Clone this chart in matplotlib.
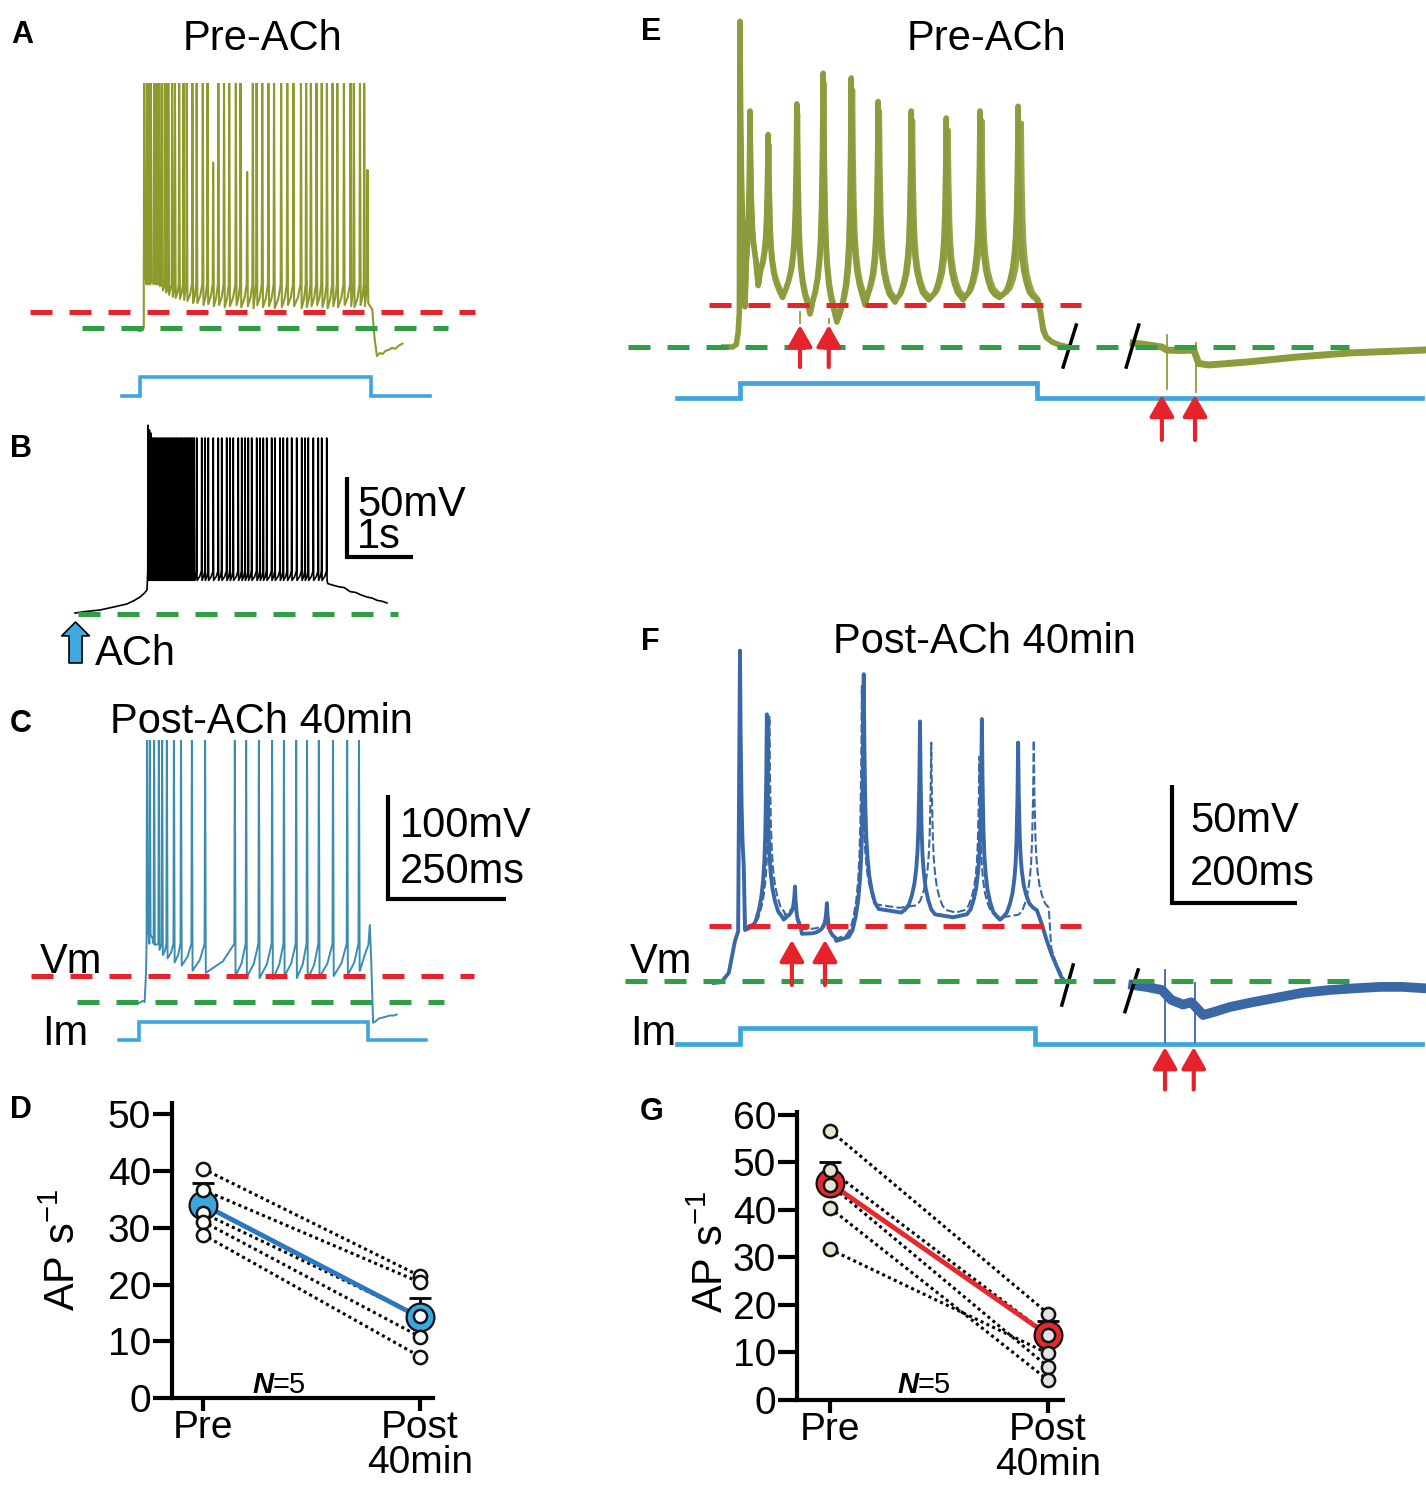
import numpy as np
import matplotlib
matplotlib.use('Agg')
import matplotlib.pyplot as plt

plt.rcParams['font.family'] = ['Liberation Sans', 'DejaVu Sans']
plt.rcParams['mathtext.default'] = 'regular'

# ---------------- data (ms, mV relative to rest, pA, AP/s) ----------------
# Panel A : Pre-ACh, current-step response
A_spike_t = [9, 15, 19, 23, 30, 35, 41, 47, 54, 60, 68, 74, 83, 92, 99, 111, 120, 133, 143, 155,
             166, 178, 189, 203, 213, 227, 239, 247, 259, 272, 284, 299, 312, 325, 341, 352, 362, 374,
             385, 396, 408, 418, 432, 446, 453, 466, 475, 482]
A_spike_v = [245, 245, 245, 245, 245, 245, 245, 245, 245, 245, 245, 245, 245, 245, 245, 245, 245, 245, 245, 159,
             245, 245, 245, 245, 245, 150, 245, 245, 245, 245, 245, 245, 245, 245, 245, 245, 245, 245,
             245, 245, 245, 245, 245, 245, 245, 245, 245, 152]
A_trough = [52, 50, 48, 46, 44, 42, 40, 36, 34, 32,
            30, 29, 28, 27, 26, 24, 24, 22, 23, 21,
            22, 20, 21, 22, 20, 21, 19, 22, 20, 21,
            19, 20, 22, 21, 19, 20, 21, 22, 20, 19,
            21, 20, 22, 21, 20, 22, 21, 24]
A_thresh = 42
A_pre_t = [-36, -20, -8, 0, 5, 8]
A_pre_v = [-1, -2, -2, -3, -2, 0]
A_post_t = [486, 492, 497, 502, 508, 514, 520, 527, 534, 541, 548, 556]
A_post_v = [22, 18, -10, -27, -24, -25, -22, -21, -19, -20, -17, -15]
A_red_v, A_red_t = 15.4, [-233, 710]
A_green_t = [-123, 653]
A_I_t = [-38, 0, 0, 490, 490, 614]
A_I_v = [0, 0, 200, 200, 0, 0]

# Panel B : ACh puff
B_pre_t = [0, 150, 379, 600, 788, 900, 985, 1050, 1091]
B_pre_v = [0.6, 1.5, 2.5, 4.5, 6.3, 8.5, 10.6, 13, 15]
B_dense_t = [1106, 1128, 1151, 1176, 1199, 1224, 1247, 1273, 1296, 1321,
             1345, 1368, 1394, 1417, 1442, 1466, 1490, 1515, 1539, 1562,
             1588, 1611, 1636, 1660, 1684, 1709, 1733, 1758, 1782, 1806]
B_sparse_t = [1844, 1920, 1970, 2020, 2095, 2171, 2223, 2298, 2348, 2398, 2474, 2526, 2576,
              2626, 2677, 2753, 2803, 2853, 2905, 2980, 3030, 3106, 3156, 3217, 3283, 3359,
              3435, 3485, 3535, 3611, 3686, 3738, 3814]
B_peak_lead = [118, 115, 113]
B_peak_level = 110
B_trough = 21
B_thresh = 27
B_post_t = [3830, 3909, 4000, 4080, 4167, 4250, 4330, 4424, 4500, 4580, 4650, 4727]
B_post_v = [19, 18, 17, 16.5, 14, 13.5, 12, 10.6, 10, 8.5, 8, 6.9]
B_green_t = [45, 4894]

# Panel C : Post-ACh 40 min
C_spike_t = [17, 23, 32, 42, 49, 59, 74, 89, 112, 140, 203, 227, 254, 282, 307, 333, 356, 381, 411, 441, 466]
C_spike_v = [270, 270, 270, 270, 270, 270, 270, 270, 270, 270, 270, 270, 270, 270, 270, 270, 270, 270, 270, 270, 270]
C_trough = [75, 65, 55, 50, 45, 42, 38, 35, 30, 28, 25, 24, 23, 22, 25, 23, 22, 24, 25, 26, 30]
C_thresh = 56
C_pre_t = [-19, -10, 0, 8, 12, 15]
C_pre_v = [1, 0, -1, 1, 0, 30]
C_post_t = [468, 478, 486, 489, 492, 496, 500, 508, 516, 524, 532, 540, 546]
C_post_v = [30, 45, 55, 74, 40, -20, -19, -16, -15, -14, -13, -13, -12]
C_red_v, C_red_t = 25, [-229, 710]
C_green_t = [-131, 646]
C_I_t = [-42, 0, 0, 485, 485, 608]
C_I_v = [0, 0, 200, 200, 0, 0]

# Panel E : Pre-ACh, stimulus protocol (two overlaid sweeps)
E1_spike_t = [0, 16, 45, 91, 133, 178, 221, 274, 330, 384, 445]
E1_spike_v = [138, 100, 90, 103, 116, 114, 104, 100, 97, 100, 102]
E1_trough_t = [8, 29, 68, 112, 155, 200, 248, 302, 357, 415]
E1_trough_v = [17, 26, 21, 14, 10.6, 17.8, 19, 20, 20, 21]
E2_spike_t = [0, 17, 47, 93, 135, 181, 224, 277, 334, 388, 451]
E2_spike_v = [133, 96, 86, 99, 112, 109, 100, 96, 92, 96, 95]
E2_trough_t = [9, 31, 70, 114, 158, 202, 250, 305, 360, 419]
E2_trough_v = [18, 27, 22, 15, 12, 19, 20, 21, 21, 22]
E_pre_t = [-26, -12, -6, -3, -1]
E_pre_v = [0, 0, 1, 6, 15]
E_tail_v = 20
E1_tail_t = [472, 477, 481, 485, 490, 500, 512, 525]
E1_tail_vals = [21, 19, 14, 7, 4, 2, 0.8, 0]
E2_tail_t = [478, 482, 486, 491, 500, 512, 525]
E2_tail_vals = [20, 15, 8, 4.5, 2.2, 0.9, 0]
E_late_t = [629, 650, 675, 683, 705, 726, 734, 750, 810, 893, 976, 1093]
E_late_v = [1.7, 1, 0, -1.3, -1.5, -1.3, -7, -7.6, -6.4, -4.2, -2.5, -1.3]
E_stim_t = [96, 142, 675, 728]
E_artifact = [(96, 15, 10), (142, 12, 10), (683, 5, -18), (730, 1.7, -19)]
E_red_v, E_red_t = 17.8, [-50, 546]
E_green_t = [-179, 974]
E_I_t = [-101, 0, 0, 475, 475, 1091]
E_I_v = [0, 0, 200, 200, 0, 0]

# Panel F : Post-ACh 40 min, stimulus protocol (two overlaid sweeps)
F1_spike_t = [0, 43, 88, 139, 198, 288, 387, 445]
F1_spike_v = [140, 113, 40, 33, 130, 110, 111, 101]
F1_trough_t = [8, 70, 99, 154, 258, 341, 416]
F1_trough_v = [21.6, 26, 20, 17, 29, 27, 26]
F1_tail_t = [475, 483, 491, 499, 507, 517]
F1_tail_vals = [30, 24, 17, 11, 6, 0]
F2_spike_t = [0, 47, 88, 139, 195, 306, 383, 470]
F2_spike_v = [135, 112, 38, 30, 125, 101, 95, 102]
F2_trough_t = [9, 72, 100, 155, 255, 345, 420]
F2_trough_v = [23, 28, 22, 18, 31, 29, 27]
F2_tail_t = [498, 505, 512, 520]
F2_tail_vals = [14, 8, 4, 0]
F_tail_v = 30
F_pre_t = [-42, -30, -18, -8, -3]
F_pre_v = [-0.8, -0.5, 3.4, 17, 21]
F_late_t = [629, 650, 675, 690, 709, 722, 741, 760, 784, 820, 864, 900, 944, 990, 1024, 1060, 1091]
F_late_v = [-1.7, -2.5, -3.8, -8, -10, -9, -14.4, -13, -11, -9, -6.8, -5, -3.8, -3, -2.5, -2.5, -3]
F_stim_t = [83, 136, 680, 726]
F_artifact = [(680, 4.7, -26), (728, -0.8, -26)]
F_red_v, F_red_t = 23.3, [-50, 546]
F_green_t = [-184, 974]
F_I_t = [-101, 0, 0, 472, 472, 1091]
F_I_v = [0, 0, 200, 200, 0, 0]

# Panels D and G : firing rate
categories = ['Pre', 'Post\n40min']
D_pre = [40.4, 36.7, 32.6, 31.1, 28.8]
D_post = [21.5, 20.4, 14.4, 10.8, 7.3]
D_mean = [34.1, 14.2]
D_sem = [3.8, 3.4]
G_pre = [56.7, 48.4, 45.3, 40.4, 31.7]
G_post = [18.2, 13.7, 7.0, 4.2, 9.8]
G_mean = [45.6, 13.7]
G_sem = [4.4, 3.0]

# ---------------- styles ----------------
A_col = '#8e9a2c'
C_col = '#3a8db0'
E_col = '#8d9b3c'
F_col = '#3a67a6'
I_col = '#3ea6dc'
RED = '#e6222a'
GREEN = '#2f9e44'
DASH = (0, (4.4, 3.4))
BIG = 30

W, H = 1426, 1494
fig = plt.figure(figsize=(W / 100, H / 100), dpi=100)


def px_axes(l, t, r, b, z=1):
    ax = fig.add_axes([l / W, 1 - b / H, (r - l) / W, (b - t) / H], zorder=z)
    ax.patch.set_alpha(0)
    return ax


def trace_axes(l, t, r, b, x0, y0, kx, ky, z=1):
    ax = px_axes(l, t, r, b, z)
    ax.set_xlim((l - x0) / kx, (r - x0) / kx)
    ax.set_ylim((y0 - b) / ky, (y0 - t) / ky)
    ax.axis('off')
    return ax


def ftext(x, y, s, **kw):
    fig.text(x / W, 1 - y / H, s, **kw)


def sharp_train(spk_t, spk_v, trough, thresh, rise=1.0, fall=1.5):
    n = len(spk_t)
    trough = list(np.broadcast_to(trough, n))
    thresh = list(np.broadcast_to(thresh, n))
    t, v = [], []
    for i in range(n):
        s, p = spk_t[i], spk_v[i]
        t += [s - rise, s, s + fall]
        v += [thresh[i], p, trough[i]]
        if i + 1 < n:
            nxt = spk_t[i + 1]
            if nxt - s > 8:
                t.append(s + 0.6 * (nxt - s))
                v.append(trough[i] + 0.4 * (thresh[i + 1] - trough[i]))
    return t, v


# spike waveform profile used for the broad (multi-sweep) spikes of E and F
SHAPE_DT = [0, 1, 2.5, 4, 6, 9, 13, 18, 24]
SHAPE_FR = [1, 0.7, 0.45, 0.32, 0.23, 0.15, 0.09, 0.04, 0.015]


def broad_train(spk_t, spk_v, tr_t, tr_v, tail_v):
    t, v = [], []
    n = len(spk_t)
    for i in range(n):
        s, p = spk_t[i], spk_v[i]
        if i > 0:
            base = tr_v[i - 1]
            lim = s - tr_t[i - 1]
            for dt, fr in zip(SHAPE_DT[::-1], SHAPE_FR[::-1]):
                if 0 < dt < lim:
                    t.append(s - dt); v.append(base + fr * (p - base))
        t.append(s); v.append(p)
        if i < n - 1:
            base = tr_v[i]
            lim = tr_t[i] - s
            for dt, fr in zip(SHAPE_DT[1:], SHAPE_FR[1:]):
                if dt < lim:
                    t.append(s + dt); v.append(base + fr * (p - base))
            t.append(tr_t[i]); v.append(base)
        else:
            for dt, fr in zip(SHAPE_DT[1:], SHAPE_FR[1:]):
                t.append(s + dt); v.append(tail_v + fr * (p - tail_v))
    return t, v


def dashed(ax, tt, v, col):
    ax.plot(tt, [v, v], color=col, lw=3.6, ls=DASH, zorder=5, dash_capstyle='butt')


def red_arrow(ax, t, v0, v1):
    ax.annotate('', xy=(t, v1), xytext=(t, v0),
                arrowprops=dict(arrowstyle='-|>,head_length=0.65,head_width=0.37',
                                color=RED, lw=3, shrinkA=0, shrinkB=0, mutation_scale=20),
                zorder=6, annotation_clip=False)


def scalebar(ax, t0, v0, dt, dv):
    ax.plot([t0, t0, t0 + dt], [v0 + dv, v0, v0], color='k', lw=3,
            solid_joinstyle='miter', solid_capstyle='butt', clip_on=False)


# ---------------- Panel A ----------------
axAI = trace_axes(0, 360, 490, 412, 140, 396, 0.472, 0.095)
axAI.plot(A_I_t, A_I_v, color=I_col, lw=2.6, solid_joinstyle='miter')
axA = trace_axes(0, 83, 490, 365, 140, 328, 0.472, 1.04, z=2)
t, v = sharp_train(A_spike_t, A_spike_v, A_trough, A_thresh)
axA.plot(A_pre_t + t + A_post_t, A_pre_v + v + A_post_v, color=A_col, lw=1.5)
dashed(axA, A_red_t, A_red_v, RED)
dashed(axA, A_green_t, 0, GREEN)
ftext(263, 50, 'Pre-ACh', fontsize=BIG, ha='center', va='baseline')
ftext(11, 43, 'A', fontsize=22, fontweight='bold', va='baseline')

# ---------------- Panel B ----------------
axB = trace_axes(0, 415, 490, 672, 75, 614, 0.066, 1.6, z=2)
B_spike_t = B_dense_t + B_sparse_t
B_spike_v = B_peak_lead + [B_peak_level] * (len(B_spike_t) - len(B_peak_lead))
t, v = sharp_train(B_spike_t, B_spike_v, B_trough, B_thresh, rise=4, fall=5)
axB.plot(B_pre_t + t + B_post_t, B_pre_v + v + B_post_v, color='black', lw=1.2)
dashed(axB, B_green_t, 0, GREEN)
axB.annotate('', xy=(8, -5), xytext=(8, -30.6),
             arrowprops=dict(arrowstyle='simple,head_length=0.5,head_width=1.0,tail_width=0.47',
                             fc='#3fa9de', ec='black', lw=1.2, shrinkA=0, shrinkB=0,
                             mutation_scale=20), annotation_clip=False)
scalebar(axB, 4121, 35.6, 1000, 50)
ftext(95, 665, 'ACh', fontsize=BIG, va='baseline')
ftext(357, 548, '50mV\n1s', fontsize=BIG, va='baseline', linespacing=0.74)
ftext(10, 457, 'B', fontsize=22, fontweight='bold', va='baseline')

# ---------------- Panel C ----------------
axCI = trace_axes(0, 1005, 550, 1060, 139, 1040, 0.472, 0.09)
axCI.plot(C_I_t, C_I_v, color=I_col, lw=2.6, solid_joinstyle='miter')
axC = trace_axes(0, 740, 550, 1030, 139, 1002, 0.472, 1.04, z=2)
t, v = sharp_train(C_spike_t, C_spike_v, C_trough, C_thresh)
axC.plot(C_pre_t + t + C_post_t, C_pre_v + v + C_post_v, color=C_col, lw=1.4)
dashed(axC, C_red_t, C_red_v, RED)
dashed(axC, C_green_t, 0, GREEN)
scalebar(axC, 527, 99, 250, 100)
ftext(261, 733, 'Post-ACh 40min', fontsize=BIG, ha='center', va='baseline')
ftext(400, 837, '100mV', fontsize=BIG, va='baseline')
ftext(400, 883, '250ms', fontsize=BIG, va='baseline')
ftext(40, 973, 'Vm', fontsize=BIG, va='baseline')
ftext(42, 1045, 'Im', fontsize=BIG, va='baseline')
ftext(10, 732, 'C', fontsize=22, fontweight='bold', va='baseline')

# ---------------- Panel E ----------------
axEI = trace_axes(620, 370, 1426, 412, 740, 398, 0.625, 0.075)
axEI.plot(E_I_t, E_I_v, color=I_col, lw=3.4, solid_joinstyle='miter')
axE = trace_axes(620, 0, 1426, 450, 740, 347, 0.625, 2.36, z=2)
t, v = broad_train(E2_spike_t, E2_spike_v, E2_trough_t, E2_trough_v, E_tail_v)
axE.plot(E_pre_t + t + E2_tail_t, E_pre_v + v + E2_tail_vals, color=E_col, lw=3, alpha=0.9)
t, v = broad_train(E1_spike_t, E1_spike_v, E1_trough_t, E1_trough_v, E_tail_v)
axE.plot(E_pre_t + t + E1_tail_t, E_pre_v + v + E1_tail_vals, color=E_col, lw=4)
axE.plot(E_late_t, E_late_v, color=E_col, lw=5)
for ta, va, vb in E_artifact:
    axE.plot([ta, ta], [va, vb], color=E_col, lw=1.3)
dashed(axE, E_red_t, E_red_v, RED)
dashed(axE, E_green_t, 0, GREEN)
for ts in E_stim_t[:2]:
    red_arrow(axE, ts, -8.5, 9.3)
for ts in E_stim_t[2:]:
    red_arrow(axE, ts, -39.4, -20.3)
axE.plot([517, 538], [-8.5, 9.3], color='k', lw=2.5)
axE.plot([618, 638], [-8.5, 9.3], color='k', lw=2.5)
ftext(986, 50, 'Pre-ACh', fontsize=BIG, ha='center', va='baseline')
ftext(641, 40, 'E', fontsize=22, fontweight='bold', va='baseline')

# ---------------- Panel F ----------------
axFI = trace_axes(620, 1010, 1426, 1060, 740, 1044, 0.625, 0.08)
axFI.plot(F_I_t, F_I_v, color=I_col, lw=3.4, solid_joinstyle='miter')
axF = trace_axes(620, 640, 1426, 1100, 740, 981, 0.625, 2.36, z=2)
t2, v2 = broad_train(F2_spike_t, F2_spike_v, F2_trough_t, F2_trough_v, F_tail_v)
axF.plot(F_pre_t + t2 + F2_tail_t, F_pre_v + v2 + F2_tail_vals, color=F_col, lw=1.5, ls=(0, (4, 1.5)))
t1, v1 = broad_train(F1_spike_t, F1_spike_v, F1_trough_t, F1_trough_v, F_tail_v)
axF.plot(F_pre_t + t1 + F1_tail_t, F_pre_v + v1 + F1_tail_vals, color=F_col, lw=2.8)
axF.plot(F_late_t, F_late_v, color=F_col, lw=7)
for ta, va, vb in F_artifact:
    axF.plot([ta, ta], [va, vb], color=F_col, lw=1.3)
dashed(axF, F_red_t, F_red_v, RED)
dashed(axF, F_green_t, 0, GREEN)
for ts in F_stim_t[:2]:
    red_arrow(axF, ts, -1.7, 17.4)
for ts in F_stim_t[2:]:
    red_arrow(axF, ts, -46, -28)
axF.plot([515, 533], [-10.2, 6.8], color='k', lw=2.5)
axF.plot([616, 637], [-13, 4.7], color='k', lw=2.5)
scalebar(axF, 691, 33, 200, 50)
ftext(984, 653, 'Post-ACh 40min', fontsize=BIG, ha='center', va='baseline')
ftext(1190, 832, '50mV', fontsize=BIG, va='baseline')
ftext(1190, 885, '200ms', fontsize=BIG, va='baseline')
ftext(630, 973, 'Vm', fontsize=BIG, va='baseline')
ftext(630, 1045, 'Im', fontsize=BIG, va='baseline')
ftext(641, 650, 'F', fontsize=22, fontweight='bold', va='baseline')


# ---------------- Panels D, G ----------------
def stat_panel(box, xlim, ylim, yticks, pre, post, mean, sem, mean_fc, line_col,
               pre_fc, post_fc, ylab_xy, n_xy, letter_xy, letter):
    ax = px_axes(*box)
    ax.set_xlim(*xlim)
    ax.set_ylim(*ylim)
    for s in ['top', 'right']:
        ax.spines[s].set_visible(False)
    for s in ['left', 'bottom']:
        ax.spines[s].set_linewidth(3)
    ax.set_yticks(yticks)
    ax.set_xticks([0, 1])
    ax.set_xticklabels(categories)
    for lbl in ax.get_xticklabels():
        lbl.set_linespacing(0.95)
    ax.tick_params(axis='y', length=14, width=3, labelsize=28, pad=1)
    ax.tick_params(axis='x', length=9, width=3, labelsize=28, pad=0)
    for a, b in zip(pre, post):
        ax.plot([0, 1], [a, b], color='k', lw=2.2, ls=(0, (1, 1.1)), zorder=2)
    ax.plot([0, 1], mean, color=line_col, lw=3.5, zorder=3, solid_capstyle='round')
    ax.errorbar([0, 1], mean, yerr=[[0, 0], sem], fmt='none', ecolor='k',
                elinewidth=2, capsize=8, capthick=2, zorder=4)
    ax.plot([0, 1], mean, 'o', ms=20, mfc=mean_fc, mec='#111111', mew=1.6, zorder=5, clip_on=False)
    ax.plot([0] * len(pre), pre, 'o', ms=9.5, mfc=pre_fc, mec='#111111', mew=1.8, zorder=6, clip_on=False)
    ax.plot([1] * len(post), post, 'o', ms=9.5, mfc=post_fc, mec='#111111', mew=1.8, zorder=6, clip_on=False)
    ftext(ylab_xy[0], ylab_xy[1], r'AP s$^{-1}$', fontsize=BIG, rotation=90, ha='center', va='center')
    ftext(n_xy[0], n_xy[1], 'N', fontsize=21, fontweight='bold', style='italic', ha='right', va='baseline')
    ftext(n_xy[0], n_xy[1], '=5', fontsize=21, ha='left', va='baseline')
    ftext(letter_xy[0], letter_xy[1], letter, fontsize=22, fontweight='bold', va='baseline')
    return ax


stat_panel((172, 1103, 433, 1398), (-0.143, 1.06), (0, 52), [0, 10, 20, 30, 40, 50],
           D_pre, D_post, D_mean, D_sem, '#3aa8df', '#2c78bf', 'white', 'white',
           (64, 1250), (273, 1393), (10, 1118), 'D')
stat_panel((797, 1112, 1063, 1400), (-0.152, 1.069), (0, 60.6), [0, 10, 20, 30, 40, 50, 60],
           G_pre, G_post, G_mean, G_sem, '#e52a2f', '#e52a2f', '#e9e5d0', '#e3e3e3',
           (712, 1252), (918, 1393), (640, 1120), 'G')

fig.savefig('out.png', dpi=100)
